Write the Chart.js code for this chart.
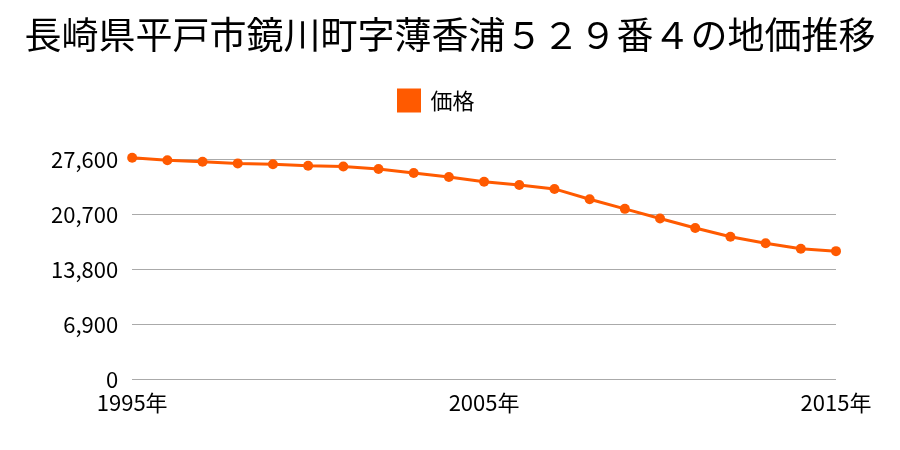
<!DOCTYPE html>
<html>
<head>
<meta charset="utf-8">
<script src="https://cdn.jsdelivr.net/npm/chart.js@4"></script>
<style>
  body { margin: 0; background: #fff; }
  #wrap { width: 900px; height: 450px; }
</style>
</head>
<body>
<div id="wrap"><canvas id="landChart"></canvas></div>
<script>
const years = ["1995", "1996", "1997", "1998", "1999", "2000", "2001", "2002", "2003", "2004",
  "2005", "2006", "2007", "2008", "2009", "2010", "2011", "2012", "2013", "2014", "2015"];
const prices = [27800, 27500, 27300, 27100, 27000, 26800, 26700, 26400, 25900, 25400,
  24800, 24400, 23900, 22600, 21400, 20200, 19000, 17900, 17100, 16400, 16100];
const yTicks = [0, 6900, 13800, 20700, 27600];
const shownYears = ["1995", "2005", "2015"];

const font = "'Noto Sans CJK JP', 'Noto Sans', sans-serif";
const orange = "#ff5a00";

// push the plot area down a bit below the legend
const legendGap = {
  id: "legendGap",
  beforeInit(chart) {
    const fit = chart.legend.fit;
    chart.legend.fit = function () {
      fit.bind(chart.legend)();
      this.height += 38;
    };
  },
  // center the title on the whole canvas, not the padded area
  afterLayout(chart) {
    const t = chart.titleBlock;
    if (t) {
      t.left = 0;
      t.right = chart.width;
      t.width = chart.width;
    }
  },
};

new Chart(document.getElementById("landChart"), {
  type: "line",
  data: {
    labels: years,
    datasets: [
      {
        label: "価格",
        data: prices,
        borderColor: orange,
        backgroundColor: orange,
        borderWidth: 3,
        pointRadius: 5,
        pointBackgroundColor: orange,
        pointBorderWidth: 0,
        tension: 0,
        clip: false,
      },
    ],
  },
  options: {
    responsive: true,
    maintainAspectRatio: false,
    animation: false,
    layout: { padding: { left: 37, right: 64, top: 8, bottom: 32 } },
    plugins: {
      title: {
        display: true,
        text: "長崎県平戸市鏡川町字薄香浦５２９番４の地価推移",
        color: "#000",
        font: { family: font, size: 37, weight: "normal" },
        padding: { top: 5, bottom: 20 },
      },
      legend: {
        labels: {
          color: "#000",
          boxWidth: 21,
          boxHeight: 21,
          font: { family: font, size: 22 },
          padding: 12,
        },
      },
      tooltip: { enabled: false },
    },
    scales: {
      x: {
        offset: false,
        grid: { display: false },
        border: { display: false },
        ticks: {
          color: "#000",
          font: { family: font, size: 22 },
          maxRotation: 0,
          autoSkip: false,
          padding: 2,
          callback: (val, i) => (shownYears.includes(years[i]) ? years[i] + "年" : ""),
        },
      },
      y: {
        min: 0,
        max: 27600,
        afterBuildTicks: (axis) => {
          axis.ticks = yTicks.map((v) => ({ value: v }));
        },
        grid: { color: "#aaaaaa", lineWidth: 1, drawTicks: false },
        border: { display: false },
        ticks: {
          color: "#000",
          font: { family: font, size: 22 },
          padding: 14,
          callback: (val) => val.toLocaleString("en-US"),
        },
      },
    },
  },
  plugins: [legendGap],
});
</script>
</body>
</html>
